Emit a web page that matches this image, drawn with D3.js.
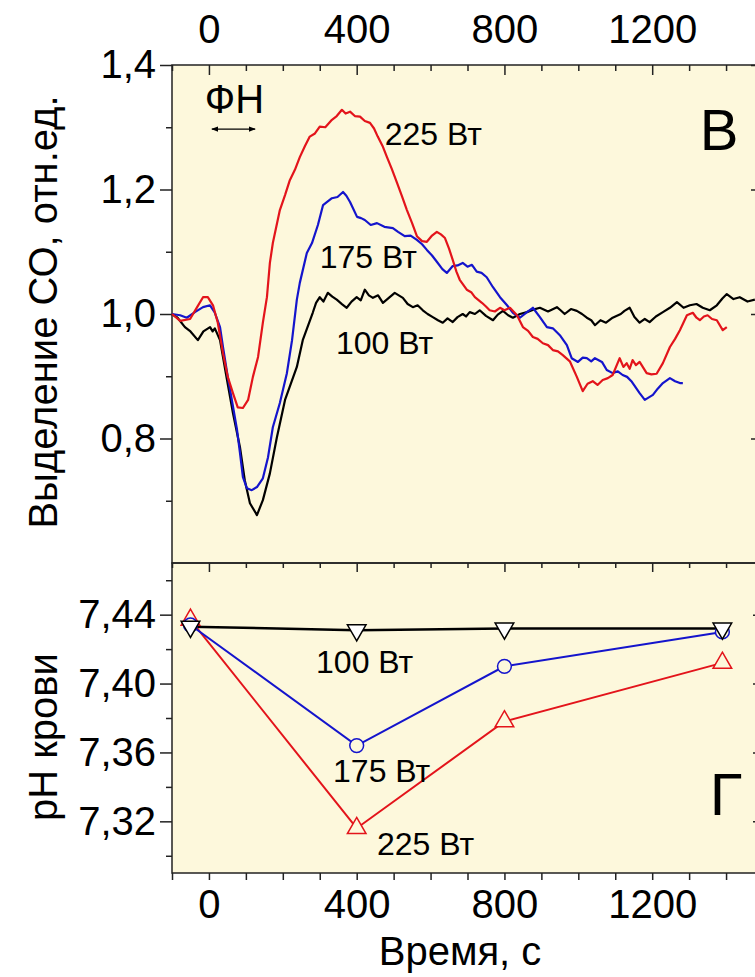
<!DOCTYPE html>
<html>
<head>
<meta charset="utf-8">
<script src="https://cdn.jsdelivr.net/npm/d3@7"></script>
<style>
  body { margin: 0; background: #fff; }
  svg text { font-family: "Liberation Sans", Arial, sans-serif; fill: #000; }
</style>
</head>
<body>
<svg id="chart" width="755" height="977"></svg>
<script>
// --- data: CO output (relative units) vs time, s ---
const co100 = [[-100,1.000],[-85,0.994],[-65,0.979],[-50,0.972],[-30,0.958],[-15,0.972],[3,0.979],[10,0.972],
  [16,0.977],[30,0.958],[49,0.894],[65,0.841],[84,0.786],[97,0.733],[111,0.696],[130,0.677],[146,0.701],
  [165,0.744],[184,0.802],[206,0.862],[238,0.915],[254,0.958],[281,1.002],[290,1.018],[300,1.027],[310,1.020],
  [322,1.034],[334,1.028],[346,1.023],[360,1.016],[373,1.010],[386,1.020],[400,1.027],[411,1.022],[422,1.039],
  [433,1.030],[444,1.026],[458,1.030],[471,1.018],[487,1.026],[503,1.034],[514,1.030],[525,1.026],[538,1.016],
  [552,1.011],[565,1.014],[579,1.006],[592,1.000],[606,0.995],[620,0.990],[633,0.986],[646,0.993],[660,0.987],
  [673,0.995],[687,1.000],[696,0.996],[706,1.003],[720,1.000],[733,1.006],[750,0.997],[769,0.990],[782,0.999],
  [796,1.005],[810,0.998],[823,0.994],[842,1.000],[861,1.003],[878,1.007],[896,1.010],[918,1.004],[942,1.011],
  [952,1.006],[963,1.000],[980,1.008],[996,1.005],[1010,1.000],[1023,0.994],[1035,0.990],[1045,0.982],
  [1060,0.990],[1075,0.986],[1093,0.994],[1115,1.000],[1125,1.005],[1139,1.010],[1152,0.995],[1166,0.986],
  [1180,0.992],[1193,0.987],[1210,0.996],[1229,1.003],[1248,1.010],[1267,1.019],[1285,1.010],[1302,1.014],
  [1320,1.016],[1337,1.010],[1356,1.006],[1375,1.014],[1390,1.025],[1402,1.032],[1420,1.024],[1437,1.027],
  [1458,1.020],[1478,1.023]];
const co175 = [[-100,1.000],[-78,0.998],[-60,0.994],[-38,1.003],[-16,1.011],[3,1.014],[16,1.002],[30,0.979],
  [38,0.947],[51,0.899],[62,0.862],[76,0.814],[84,0.777],[92,0.738],[103,0.720],[116,0.717],[130,0.722],
  [146,0.736],[160,0.770],[173,0.818],[192,0.857],[211,0.905],[225,0.958],[238,1.023],[246,1.050],[265,1.098],
  [279,1.114],[295,1.143],[309,1.175],[320,1.180],[333,1.186],[348,1.188],[363,1.196],[372,1.190],[382,1.180],
  [401,1.156],[412,1.154],[422,1.151],[438,1.143],[455,1.146],[475,1.140],[498,1.138],[512,1.132],[530,1.125],
  [546,1.126],[563,1.119],[577,1.112],[590,1.103],[604,1.094],[617,1.084],[632,1.072],[644,1.066],[660,1.077],
  [673,1.078],[687,1.082],[700,1.076],[712,1.079],[725,1.068],[738,1.066],[752,1.059],[769,1.043],[788,1.027],
  [807,1.014],[823,1.002],[842,0.994],[861,1.003],[877,1.010],[896,0.995],[915,0.979],[931,0.977],[950,0.966],
  [969,0.950],[982,0.929],[999,0.923],[1012,0.930],[1023,0.929],[1035,0.924],[1045,0.929],[1064,0.923],
  [1077,0.910],[1093,0.905],[1107,0.908],[1120,0.902],[1132,0.899],[1145,0.891],[1166,0.873],[1180,0.862],
  [1202,0.870],[1215,0.880],[1229,0.889],[1248,0.897],[1262,0.892],[1275,0.889],[1283,0.889]];
const co225 = [[-100,1.000],[-78,0.989],[-51,0.992],[-32,1.011],[-16,1.027],[-3,1.027],[11,1.014],[24,0.986],
  [38,0.937],[51,0.899],[65,0.873],[78,0.850],[92,0.849],[106,0.862],[119,0.899],[133,0.931],[146,0.986],
  [157,1.027],[165,1.082],[173,1.114],[192,1.167],[206,1.191],[219,1.215],[233,1.232],[246,1.252],[260,1.270],
  [273,1.285],[287,1.290],[300,1.301],[315,1.300],[333,1.312],[346,1.318],[360,1.328],[370,1.322],[382,1.325],
  [395,1.318],[409,1.317],[422,1.310],[436,1.307],[447,1.298],[457,1.285],[470,1.270],[482,1.252],[495,1.233],
  [509,1.211],[522,1.190],[536,1.167],[550,1.146],[563,1.125],[577,1.117],[590,1.116],[604,1.126],[617,1.132],
  [628,1.128],[639,1.122],[650,1.105],[660,1.087],[670,1.068],[679,1.055],[698,1.039],[710,1.035],[720,1.027],
  [739,1.018],[750,1.012],[760,1.006],[774,1.004],[788,1.010],[800,1.006],[815,1.010],[834,0.998],[850,0.979],
  [864,0.973],[877,0.963],[890,0.960],[904,0.953],[918,0.950],[931,0.942],[945,0.940],[958,0.934],[977,0.924],
  [996,0.899],[1012,0.876],[1025,0.888],[1039,0.892],[1052,0.886],[1066,0.894],[1080,0.897],[1093,0.902],
  [1112,0.929],[1122,0.915],[1131,0.921],[1139,0.912],[1147,0.926],[1156,0.918],[1166,0.923],[1185,0.905],
  [1198,0.903],[1212,0.904],[1229,0.921],[1248,0.947],[1262,0.960],[1275,0.974],[1294,0.998],[1310,1.002],
  [1320,0.994],[1329,0.990],[1340,0.996],[1350,0.998],[1362,0.992],[1375,0.990],[1391,0.974],[1402,0.979]];

// --- data: blood pH ---
const phTime = [-50, 400, 800, 1390];
const ph100 = [7.433, 7.431, 7.432, 7.432];
const ph175 = [7.434, 7.364, 7.410, 7.430];
const ph225 = [7.437, 7.316, 7.378, 7.412];

const xTicksLabeled = [0, 400, 800, 1200];
const coTicksLabeled = [0.8, 1.0, 1.2, 1.4];
const coTicksMinor = [0.7, 0.9, 1.1, 1.3];
const phTicksLabeled = [7.32, 7.36, 7.40, 7.44];
const phTicksMinor = [7.30, 7.34, 7.38, 7.42, 7.46];

const RED = '#e3141b', BLUE = '#1414cc', BLACK = '#000', BG = '#fdf8dc';

const svg = d3.select('#chart');

const x = d3.scaleLinear().domain([-100, 1500]).range([172, 763]);
const yTop = d3.scaleLinear().domain([0.6, 1.4]).range([563, 65]);
const yBot = d3.scaleLinear().domain([7.29, 7.47]).range([873, 563]);

const xAll = d3.range(-100, 1501, 100);
const xMinor = xAll.filter(d => d % 400 !== 0);
const comma = f => d => d3.format(f)(d).replace('.', ',');

// panel backgrounds
svg.append('rect').attr('x', x(-100)).attr('y', yTop(1.4))
  .attr('width', x(1500) - x(-100)).attr('height', yBot(7.29) - yTop(1.4))
  .attr('fill', BG);

function clean(g) {
  g.select('.domain').remove();
  g.selectAll('line').attr('stroke', '#222').attr('stroke-width', 1.5);
  g.selectAll('text').style('font-size', '40px').attr('fill', '#000');
  return g;
}

// top panel axes
svg.append('g').attr('transform', `translate(${x(-100)},0)`)
  .call(d3.axisLeft(yTop).tickValues(coTicksLabeled).tickSize(12).tickPadding(4).tickFormat(comma('.1f')))
  .call(clean);
svg.append('g').attr('transform', `translate(${x(-100)},0)`)
  .call(d3.axisLeft(yTop).tickValues(coTicksMinor).tickSize(6).tickFormat(''))
  .call(clean);
svg.append('g').attr('transform', `translate(${x(1500)},0)`)
  .call(d3.axisLeft(yTop).tickValues(coTicksLabeled).tickSize(12).tickFormat(''))
  .call(clean);
svg.append('g').attr('transform', `translate(0,${yTop(1.4)})`)
  .call(d3.axisBottom(x).tickValues(xTicksLabeled).tickSize(10).tickFormat(''))
  .call(clean);
svg.append('g').attr('transform', `translate(0,${yTop(1.4)})`)
  .call(d3.axisBottom(x).tickValues(xMinor).tickSize(6).tickFormat(''))
  .call(clean);
svg.append('g').attr('transform', `translate(0,${yTop(1.4)})`)
  .call(d3.axisTop(x).tickValues(xTicksLabeled).tickSize(0).tickPadding(22).tickFormat(d3.format('d')))
  .call(clean);

// bottom panel axes
svg.append('g').attr('transform', `translate(${x(-100)},0)`)
  .call(d3.axisLeft(yBot).tickValues(phTicksLabeled).tickSize(12).tickPadding(4).tickFormat(comma('.2f')))
  .call(clean);
svg.append('g').attr('transform', `translate(${x(-100)},0)`)
  .call(d3.axisLeft(yBot).tickValues(phTicksMinor).tickSize(6).tickFormat(''))
  .call(clean);
svg.append('g').attr('transform', `translate(${x(1500)},0)`)
  .call(d3.axisLeft(yBot).tickValues(phTicksLabeled).tickSize(10).tickFormat(''))
  .call(clean);
svg.append('g').attr('transform', `translate(0,${yBot(7.47)})`)
  .call(d3.axisBottom(x).tickValues(xTicksLabeled).tickSize(9).tickFormat(''))
  .call(clean);
svg.append('g').attr('transform', `translate(0,${yBot(7.47)})`)
  .call(d3.axisBottom(x).tickValues(xMinor).tickSize(5).tickFormat(''))
  .call(clean);
svg.append('g').attr('transform', `translate(0,${yBot(7.29)})`)
  .call(d3.axisBottom(x).tickValues(xAll).tickSize(7).tickPadding(10)
    .tickFormat(d => xTicksLabeled.includes(d) ? d : ''))
  .call(clean);

// frames
svg.append('rect').attr('x', x(-100)).attr('y', yTop(1.4))
  .attr('width', x(1500) - x(-100)).attr('height', yTop(0.6) - yTop(1.4))
  .attr('fill', 'none').attr('stroke', '#222').attr('stroke-width', 1.5);
svg.append('rect').attr('x', x(-100)).attr('y', yBot(7.47))
  .attr('width', x(1500) - x(-100)).attr('height', yBot(7.29) - yBot(7.47))
  .attr('fill', 'none').attr('stroke', '#222').attr('stroke-width', 1.5);

// CO curves
const coLine = d3.line().x(d => x(d[0])).y(d => yTop(d[1]));
[[co100, BLACK], [co175, BLUE], [co225, RED]].forEach(([s, c]) => {
  svg.append('path').datum(s).attr('d', coLine)
    .attr('fill', 'none').attr('stroke', c).attr('stroke-width', 2.2)
    .attr('stroke-linejoin', 'round');
});

// pH series
const phLine = d3.line().x(d => x(d[0])).y(d => yBot(d[1]));
const phSeries = [
  { vals: ph225, color: RED, shape: d3.symbolTriangle, fill: BG, rot: 0, w: 2 },
  { vals: ph175, color: BLUE, shape: d3.symbolCircle, fill: BG, rot: 0, w: 2 },
  { vals: ph100, color: BLACK, shape: d3.symbolTriangle, fill: '#fff', rot: 180, w: 2.5 }
];
phSeries.forEach(s => {
  const pts = phTime.map((t, i) => [t, s.vals[i]]);
  svg.append('path').datum(pts).attr('d', phLine)
    .attr('fill', 'none').attr('stroke', s.color).attr('stroke-width', s.w);
});
phSeries.forEach(s => {
  const pts = phTime.map((t, i) => [t, s.vals[i]]);
  svg.selectAll(null).data(pts).enter().append('path')
    .attr('d', d3.symbol().type(s.shape).size(150))
    .attr('transform', d => `translate(${x(d[0])},${yBot(d[1])}) rotate(${s.rot})`)
    .attr('fill', s.fill).attr('stroke', s.color).attr('stroke-width', 1.5);
});

// axis titles
svg.append('text').attr('transform', `translate(57,${(yTop(1.4) + yTop(0.6)) / 2 - 2}) rotate(-90)`)
  .attr('text-anchor', 'middle').style('font-size', '40px').text('Выделение СО, отн.ед.');
svg.append('text').attr('transform', `translate(57,737) rotate(-90)`)
  .attr('text-anchor', 'middle').style('font-size', '40px').text('рН крови');
svg.append('text').attr('x', 460).attr('y', 965)
  .attr('text-anchor', 'middle').style('font-size', '40px').text('Время, с');

// annotations
const note = (t, v, scale, txt, size) => svg.append('text')
  .attr('x', x(t)).attr('y', scale(v)).style('font-size', size + 'px').text(txt);
note(-11, 1.323, yTop, 'ФН', 40);
note(476, 1.272, yTop, '225 Вт', 32);
note(300, 1.074, yTop, '175 Вт', 32);
note(344, 0.936, yTop, '100 Вт', 32);
note(1329, 1.264, yTop, 'В', 58);
note(290, 7.406, yBot, '100 Вт', 32);
note(336, 7.343, yBot, '175 Вт', 32);
note(455, 7.3005, yBot, '225 Вт', 32);
note(1356, 7.3237, yBot, 'Г', 60);

// ФН arrow
svg.append('defs').append('marker').attr('id', 'ah').attr('viewBox', '0 0 10 10')
  .attr('refX', 9).attr('refY', 5).attr('markerWidth', 6).attr('markerHeight', 6)
  .attr('orient', 'auto-start-reverse')
  .append('path').attr('d', 'M0,1 L10,5 L0,9 z').attr('fill', '#000');
svg.append('line').attr('x1', x(8)).attr('x2', x(125))
  .attr('y1', yTop(1.297)).attr('y2', yTop(1.297))
  .attr('stroke', '#000').attr('stroke-width', 1.2)
  .attr('marker-start', 'url(#ah)').attr('marker-end', 'url(#ah)');
</script>
</body>
</html>
